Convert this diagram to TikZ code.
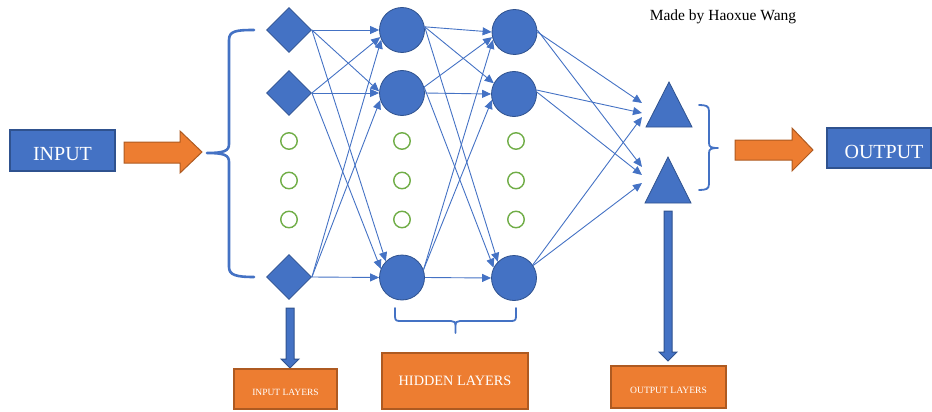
\documentclass[tikz,border=0pt]{standalone}
\usepackage{fontspec}
\setmainfont{Liberation Serif}
\usetikzlibrary{arrows.meta,shapes.geometric}
\definecolor{nblue}{HTML}{4472C4}
\definecolor{nbluedark}{HTML}{2F528F}
\definecolor{norange}{HTML}{ED7D31}
\definecolor{norangedark}{HTML}{AE5A21}
\definecolor{ngreen}{HTML}{70AD47}
\begin{document}
\begin{tikzpicture}[x=1pt,y=-1pt,
  conn/.style={draw=nblue, line width=0.9pt, -{Triangle[length=9pt,width=8pt]}},
  dia/.style={diamond, minimum width=45pt, minimum height=45pt, inner sep=0pt, fill=nblue, draw=nbluedark, line width=0.8pt},
  hid/.style={circle, minimum size=45pt, inner sep=0pt, fill=nblue, draw=nbluedark, line width=0.8pt},
  dotc/.style={circle, minimum size=16.5pt, inner sep=0pt, draw=ngreen, line width=1.4pt},
  tri/.style={fill=nblue, draw=nbluedark, line width=0.8pt},
  bluebox/.style={rectangle, fill=nblue, draw=nbluedark, line width=1.2pt, inner sep=0pt, text=white, font=\fontsize{20}{22}\selectfont, text depth=0pt},
  orangebox/.style={rectangle, fill=norange, draw=norangedark, line width=1.2pt, inner sep=0pt, text=white, text depth=0pt},
  bracestyle/.style={draw=nblue, line width=2pt, line cap=round, line join=round},
  blockorange/.style={fill=norange, draw=norangedark, line width=1pt},
  blockblue/.style={fill=nblue, draw=nbluedark, line width=1pt}
]
\useasboundingbox (0,0) rectangle (932,412);

% input / output boxes
\node[bluebox, minimum width=105pt, minimum height=41pt, text height=20.2pt] (inp) at (62.5,150.5) {INPUT};
\node[bluebox, minimum width=104pt, minimum height=40pt, text height=21.2pt] (outp) at (879,148) {\hspace*{10pt}OUTPUT};

% block arrows
\path[blockorange] (124,142) -- (180,142) -- (180,131) -- (202,152) -- (180,173) -- (180,163) -- (124,163) -- cycle;
\path[blockorange] (735,140) -- (792,140) -- (792,128) -- (813,150) -- (792,171) -- (792,160) -- (735,160) -- cycle;
\path[blockblue] (286,308) -- (294,308) -- (294,359) -- (299,359) -- (290,368) -- (281,359) -- (286,359) -- cycle;
\path[blockblue] (664,211) -- (672,211) -- (672,352) -- (677,352) -- (668,361) -- (659,352) -- (664,352) -- cycle;

% braces
\draw[bracestyle, line width=2.6pt] (254,30) .. controls (236,30) and (229,31) .. (229,40) -- (229,144)
  .. controls (229,151) and (224,153) .. (207,153) .. controls (224,153) and (229,155) .. (229,162)
  -- (229,267) .. controls (229,275) and (236,277) .. (254,277);
\draw[bracestyle, line width=1.8pt] (699,105) .. controls (706,105) and (709,106) .. (709,111) -- (709,143)
  .. controls (709,147) and (711,148) .. (718,148) .. controls (711,148) and (709,149) .. (709,153)
  -- (709,184) .. controls (709,189) and (706,190) .. (699,190);
\draw[bracestyle, line width=1.8pt] (395,308) -- (395,316) .. controls (395,320) and (396,321) .. (400,321)
  -- (451,321) .. controls (454,321) and (455.5,322) .. (455.5,326) -- (455.5,333)
  (455.5,326) .. controls (455.5,322) and (457,321) .. (460,321) -- (511,321)
  .. controls (515,321) and (516,320) .. (516,316) -- (516,308);

% input layer
\node[dia] (d1) at (289,30) {};
\node[dia] (d2) at (289,93) {};
\node[dia] (d3) at (289,277) {};
% hidden layers
\node[hid] (h1a) at (402,30) {};
\node[hid] (h1b) at (402,93) {};
\node[hid] (h1c) at (402,277.5) {};
\node[hid] (h2a) at (514.5,32) {};
\node[hid] (h2b) at (514,94) {};
\node[hid] (h2c) at (514,278) {};
% dots
\foreach \xx/\nm in {289/a,402/b,516/c}{
  \node[dotc] (g\nm1) at (\xx,141) {};
  \node[dotc] (g\nm2) at (\xx,180.5) {};
  \node[dotc] (g\nm3) at (\xx,219.5) {};
}
% output layer
\path[tri] (669,82) -- (692,127) -- (646,127) -- cycle;
\path[tri] (668,157) -- (691,203) -- (645,203) -- cycle;
\coordinate (t1i1) at (642,103);
\coordinate (t1i2) at (642,113);
\coordinate (t1i3) at (642,117);
\coordinate (t2i1) at (642,167);
\coordinate (t2i2) at (642,175);
\coordinate (t2i3) at (642,183);

% connections input -> hidden 1
\draw[conn] (d1.east) -- (h1a.west);
\draw[conn] (d1.east) -- (h1b.176);
\draw[conn] (d1.east) -- (h1c.135);
\draw[conn] (d2.east) -- (h1a.198);
\draw[conn] (d2.east) -- (h1b.west);
\draw[conn] (d2.east) -- (h1c.158);
\draw[conn] (d3.east) -- (h1a.205);
\draw[conn] (d3.east) -- (h1b.198);
\draw[conn] (d3.east) -- (h1c.west);
% hidden 1 -> hidden 2
\draw[conn] (h1a.8) -- (h2a.west);
\draw[conn] (h1a.8) -- (h2b.152);
\draw[conn] (h1a.8) -- (h2c.135);
\draw[conn] (h1b.15) -- (h2a.193);
\draw[conn] (h1b.east) -- (h2b.west);
\draw[conn] (h1b.15) -- (h2c.153);
\draw[conn] (h1c.20) -- (h2a.200);
\draw[conn] (h1c.20) -- (h2b.195);
\draw[conn] (h1c.east) -- (h2c.west);
% hidden 2 -> output
\draw[conn] (h2a.east) -- (t1i1);
\draw[conn] (h2a.5) -- (t2i1);
\draw[conn] (h2b.10) -- (t1i2);
\draw[conn] (h2b.5) -- (t2i2);
\draw[conn] (h2c.35) -- (t1i3);
\draw[conn] (h2c.33) -- (t2i3);

% label boxes
\node[orangebox, minimum width=103pt, minimum height=40pt, font=\fontsize{9.5}{11}\selectfont, text height=12.3pt] (inl) at (285.5,389) {INPUT LAYERS};
\node[orangebox, minimum width=146pt, minimum height=56pt, font=\fontsize{14.3}{16}\selectfont, text height=9.5pt] (hidl) at (455,381) {HIDDEN LAYERS};
\node[orangebox, minimum width=115pt, minimum height=42pt, font=\fontsize{9.6}{11}\selectfont, text height=12.4pt] (outl) at (668.5,387) {OUTPUT LAYERS};

% credit
\node[font=\fontsize{15.5}{17}\selectfont, inner sep=0pt] (credit) at (723,17) {Made by Haoxue Wang};
\end{tikzpicture}
\end{document}
